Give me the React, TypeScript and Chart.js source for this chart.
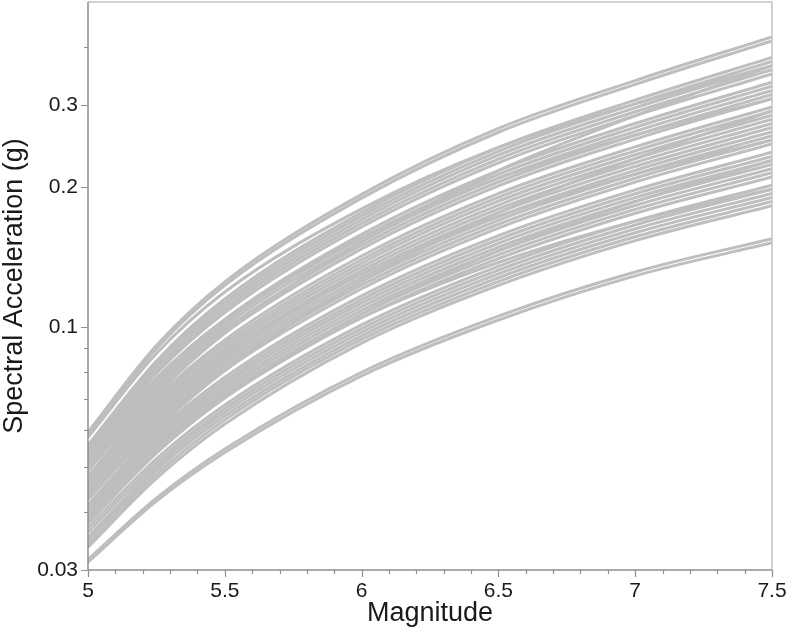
import React, { useEffect, useRef } from 'react';
import { Chart, registerables } from 'chart.js';

Chart.register(...registerables);

// Magnitudes at which each curve is sampled
const magnitudes = [5, 5.25, 5.5, 6, 6.5, 7, 7.5];

// Spectral acceleration (g) curves, one row per curve, aligned with magnitudes
const lowerCurves = [
  [0.0312, 0.0422, 0.0537, 0.0785, 0.1035, 0.1288, 0.1517],
  [0.0316, 0.0428, 0.0546, 0.0799, 0.1055, 0.1313, 0.1548],
];

const middleCurves = [
  [0.0336, 0.0472, 0.0618, 0.0923, 0.1228, 0.1533, 0.1823],
  [0.0341, 0.0481, 0.0631, 0.0940, 0.1252, 0.1563, 0.1861],
  [0.0347, 0.0491, 0.0643, 0.0957, 0.1276, 0.1594, 0.1899],
  [0.0353, 0.0500, 0.0655, 0.0974, 0.1300, 0.1625, 0.1938],
  [0.0362, 0.0510, 0.0667, 0.0992, 0.1325, 0.1657, 0.1978],
  [0.0370, 0.0520, 0.0679, 0.1010, 0.1350, 0.1689, 0.2019],
  [0.0383, 0.0540, 0.0704, 0.1047, 0.1402, 0.1756, 0.2102],
  [0.0388, 0.0548, 0.0716, 0.1066, 0.1429, 0.1790, 0.2146],
  [0.0393, 0.0557, 0.0728, 0.1085, 0.1457, 0.1825, 0.2190],
  [0.0398, 0.0565, 0.0740, 0.1105, 0.1484, 0.1861, 0.2235],
  [0.0404, 0.0574, 0.0753, 0.1125, 0.1513, 0.1897, 0.2281],
  [0.0409, 0.0583, 0.0766, 0.1145, 0.1542, 0.1934, 0.2328],
  [0.0414, 0.0592, 0.0779, 0.1166, 0.1572, 0.1972, 0.2376],
  [0.0425, 0.0611, 0.0806, 0.1208, 0.1632, 0.2049, 0.2475],
  [0.0431, 0.0620, 0.0820, 0.1230, 0.1663, 0.2089, 0.2526],
  [0.0436, 0.0630, 0.0833, 0.1253, 0.1696, 0.2130, 0.2578],
  [0.0442, 0.0640, 0.0848, 0.1275, 0.1728, 0.2172, 0.2631],
  [0.0447, 0.0650, 0.0862, 0.1299, 0.1761, 0.2214, 0.2686],
  [0.0453, 0.0660, 0.0877, 0.1322, 0.1795, 0.2257, 0.2741],
  [0.0459, 0.0670, 0.0892, 0.1346, 0.1829, 0.2301, 0.2798],
  [0.0465, 0.0680, 0.0907, 0.1371, 0.1864, 0.2346, 0.2855],
  [0.0471, 0.0691, 0.0922, 0.1395, 0.1900, 0.2392, 0.2914],
  [0.0477, 0.0702, 0.0938, 0.1421, 0.1936, 0.2439, 0.2974],
  [0.0490, 0.0724, 0.0970, 0.1472, 0.2011, 0.2535, 0.3098],
  [0.0496, 0.0735, 0.0987, 0.1499, 0.2050, 0.2585, 0.3162],
  [0.0503, 0.0746, 0.1004, 0.1526, 0.2089, 0.2635, 0.3227],
  [0.0509, 0.0758, 0.1021, 0.1554, 0.2129, 0.2687, 0.3294],
  [0.0516, 0.0770, 0.1038, 0.1582, 0.2170, 0.2739, 0.3362],
  [0.0529, 0.0794, 0.1074, 0.1640, 0.2254, 0.2847, 0.3502],
  [0.0536, 0.0806, 0.1092, 0.1670, 0.2297, 0.2903, 0.3574],
  [0.0543, 0.0819, 0.1111, 0.1700, 0.2341, 0.2960, 0.3648],
  [0.0550, 0.0832, 0.1130, 0.1731, 0.2386, 0.3018, 0.3723],
  [0.0557, 0.0845, 0.1149, 0.1762, 0.2432, 0.3076, 0.3800],
];

const crossingCurves = [
  [0.0378, 0.0535, 0.0704, 0.1066, 0.1457, 0.1861, 0.2281],
  [0.0459, 0.0665, 0.0877, 0.1299, 0.1728, 0.2130, 0.2526],
  [0.0414, 0.0601, 0.0806, 0.1253, 0.1761, 0.2301, 0.2914],
  [0.0522, 0.0776, 0.1038, 0.1554, 0.2089, 0.2585, 0.3098],
  [0.0477, 0.0713, 0.0970, 0.1526, 0.2170, 0.2847, 0.3648],
  [0.0393, 0.0553, 0.0716, 0.1047, 0.1376, 0.1689, 0.1978],
  [0.0579, 0.0877, 0.1189, 0.1794, 0.2432, 0.3018, 0.3648],
];

const upperCurves = [
  [0.0587, 0.0898, 0.1229, 0.1893, 0.2623, 0.3324, 0.4123],
  [0.0594, 0.0912, 0.1250, 0.1928, 0.2673, 0.3388, 0.4207],
];

// Axis ticks
const yTickValues = [0.03, 0.1, 0.2, 0.3];
const yTickLabels = ['0.03', '0.1', '0.2', '0.3'];
const yMinorTicks = [0.04, 0.05, 0.06, 0.07, 0.08, 0.09, 0.4];
const xTickValues = [5, 5.5, 6, 6.5, 7, 7.5];
const xTickLabels = ['5', '5.5', '6', '6.5', '7', '7.5'];
const xMinorTicks = [5.1, 5.2, 5.3, 5.4, 5.6, 5.7, 5.8, 5.9, 6.1, 6.2, 6.3, 6.4, 6.6, 6.7, 6.8, 6.9, 7.1, 7.2, 7.3, 7.4];

const FONT = "'Liberation Sans', Arial, sans-serif";
const LINE_COLOR = '#bebebe';

const axesPlugin = {
  id: 'axesFrame',
  afterDraw(chart: any) {
    const { ctx, chartArea: a } = chart;
    const xs = chart.scales.x;
    const ys = chart.scales.y;
    ctx.save();
    ctx.strokeStyle = '#c4c4c4';
    ctx.lineWidth = 1.5;
    ctx.beginPath();
    ctx.moveTo(a.left, a.top);
    ctx.lineTo(a.right, a.top);
    ctx.lineTo(a.right, a.bottom);
    ctx.stroke();
    ctx.strokeStyle = '#8f8f8f';
    ctx.beginPath();
    ctx.moveTo(a.left, a.top);
    ctx.lineTo(a.left, a.bottom);
    ctx.lineTo(a.right, a.bottom);
    ctx.stroke();
    ctx.lineWidth = 1.2;
    ctx.beginPath();
    yTickValues.forEach((v) => {
      const p = Math.round(ys.getPixelForValue(v)) + 0.5;
      ctx.moveTo(a.left, p);
      ctx.lineTo(a.left - 7, p);
    });
    yMinorTicks.forEach((v) => {
      const p = Math.round(ys.getPixelForValue(v)) + 0.5;
      ctx.moveTo(a.left, p);
      ctx.lineTo(a.left - 4, p);
    });
    xTickValues.forEach((v) => {
      const p = Math.round(xs.getPixelForValue(v)) + 0.5;
      ctx.moveTo(p, a.bottom);
      ctx.lineTo(p, a.bottom + 7);
    });
    xMinorTicks.forEach((v) => {
      const p = Math.round(xs.getPixelForValue(v)) + 0.5;
      ctx.moveTo(p, a.bottom);
      ctx.lineTo(p, a.bottom + 4);
    });
    ctx.stroke();
    ctx.restore();
  },
};

export default function App() {
  const canvasRef = useRef<HTMLCanvasElement | null>(null);

  useEffect(() => {
    document.body.style.margin = '0';
    const canvas = canvasRef.current;
    if (!canvas) return;
    const allCurves = [...lowerCurves, ...middleCurves, ...crossingCurves, ...upperCurves];
    const datasets = allCurves.map((row, i) => ({
      label: 'curve ' + (i + 1),
      data: row.map((v, j) => ({ x: magnitudes[j], y: v })),
      borderColor: LINE_COLOR,
      backgroundColor: LINE_COLOR,
      borderWidth: 3,
      pointRadius: 0,
      cubicInterpolationMode: 'monotone' as const,
      fill: false,
    }));

    const chart = new Chart(canvas, {
      type: 'line',
      data: { datasets },
      plugins: [axesPlugin],
      options: {
        animation: false,
        responsive: false,
        devicePixelRatio: 1,
        layout: { padding: { left: 0, right: 14, top: 2, bottom: 0 } },
        plugins: {
          legend: { display: false },
          tooltip: { enabled: false },
        },
        scales: {
          x: {
            type: 'linear',
            min: 5,
            max: 7.5,
            grid: { display: false, drawTicks: false },
            border: { display: false },
            afterBuildTicks: (scale: any) => {
              scale.ticks = xTickValues.map((v) => ({ value: v }));
            },
            afterFit: (scale: any) => {
              scale.height = 73;
              scale.paddingLeft = 0;
              scale.paddingRight = 0;
            },
            ticks: {
              padding: 9,
              maxRotation: 0,
              autoSkip: false,
              color: '#1a1a1a',
              font: { family: FONT, size: 21 },
              callback: (value: any) => {
                const i = xTickValues.indexOf(Number(value));
                return i >= 0 ? xTickLabels[i] : '';
              },
            },
            title: {
              display: true,
              text: 'Magnitude',
              color: '#1a1a1a',
              font: { family: FONT, size: 27, lineHeight: 1.2 },
              padding: { top: 0, bottom: 13 },
            },
          },
          y: {
            type: 'logarithmic',
            min: 0.03,
            max: 0.5,
            grid: { display: false, drawTicks: false },
            border: { display: false },
            afterBuildTicks: (scale: any) => {
              scale.ticks = yTickValues.map((v) => ({ value: v }));
            },
            afterFit: (scale: any) => {
              scale.width = 88;
              scale.paddingTop = 0;
              scale.paddingBottom = 0;
            },
            ticks: {
              padding: 10,
              autoSkip: false,
              color: '#1a1a1a',
              font: { family: FONT, size: 21 },
              callback: (value: any) => {
                const v = Number(value);
                const i = yTickValues.findIndex((t) => Math.abs(t - v) < 1e-9);
                return i >= 0 ? yTickLabels[i] : '';
              },
            },
            title: {
              display: true,
              text: 'Spectral Acceleration (g)',
              color: '#1a1a1a',
              font: { family: FONT, size: 27, lineHeight: 1 },
              padding: { top: 1, bottom: 0 },
            },
          },
        },
      },
    });
    return () => chart.destroy();
  }, []);

  return (
    <div style={{ position: 'fixed', left: 0, top: 0, width: 786, height: 643, background: '#fff' }}>
      <canvas ref={canvasRef} width={786} height={643} style={{ width: 786, height: 643, display: 'block' }} />
    </div>
  );
}
